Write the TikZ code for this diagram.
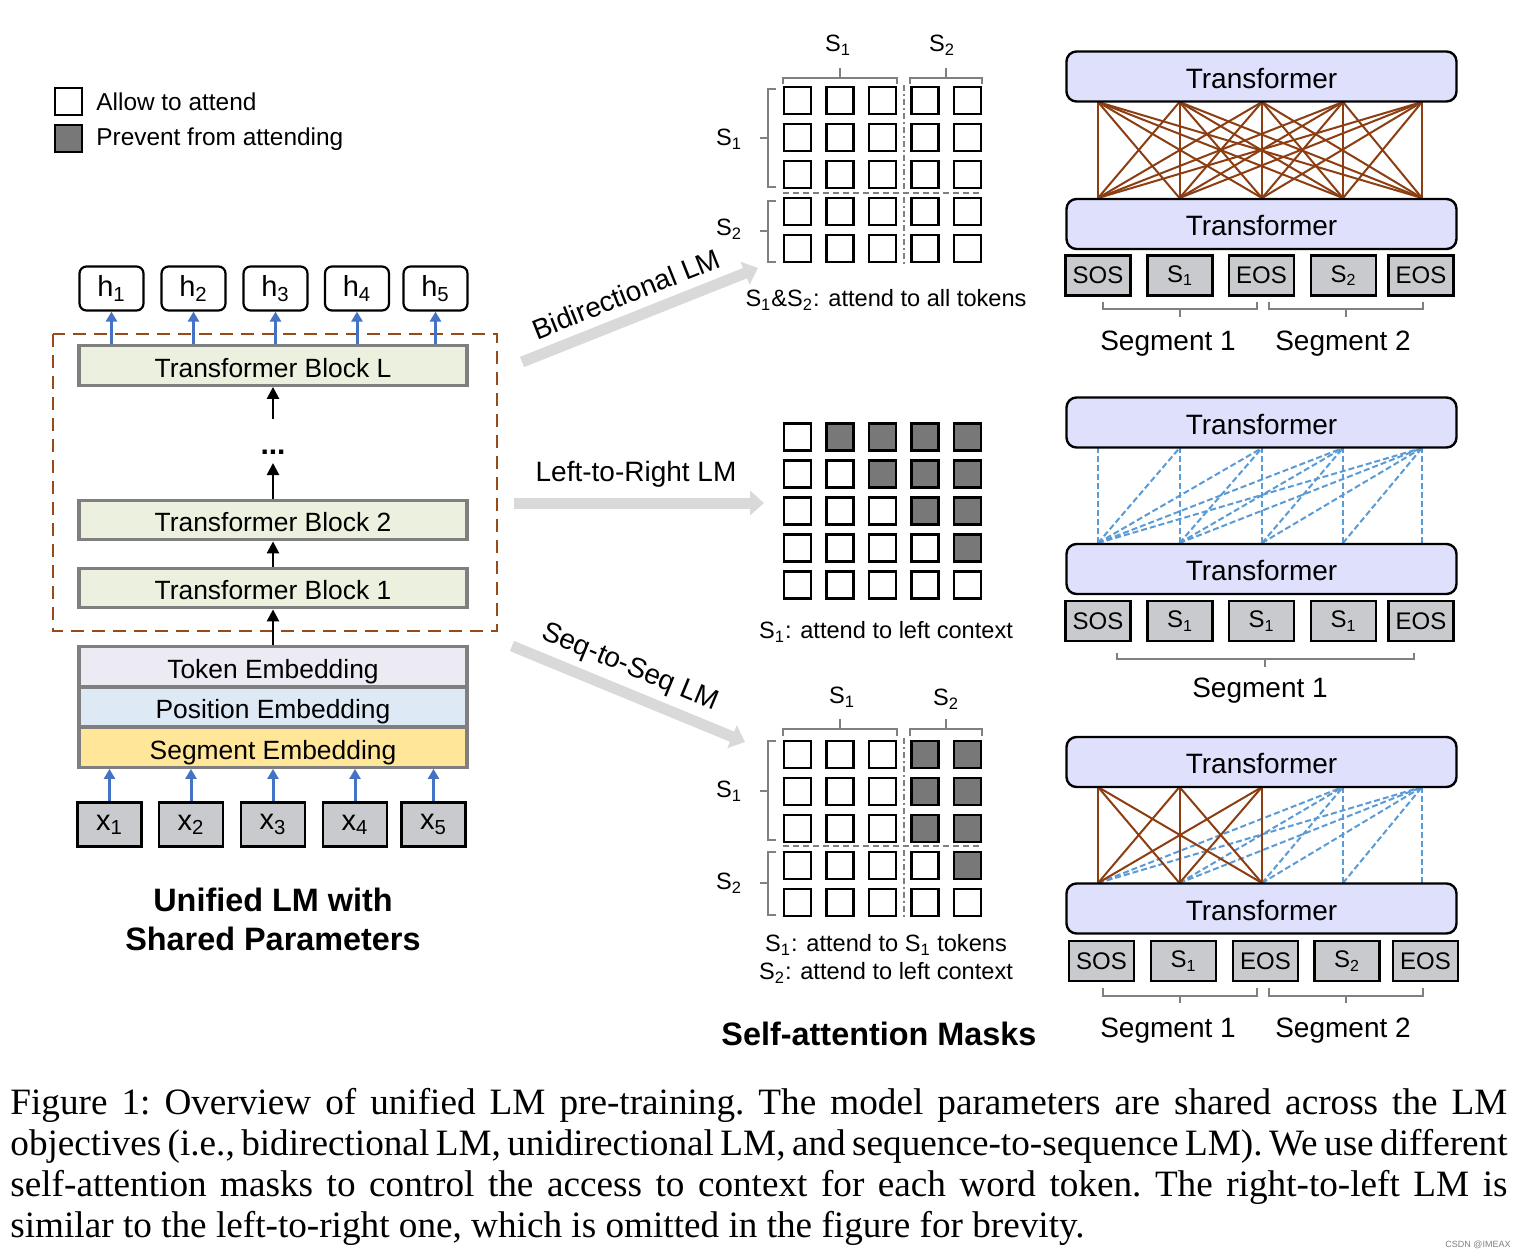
\documentclass[tikz,border=0pt]{standalone}
\usepackage{fontspec}
\setmainfont{Liberation Sans}
\newfontfamily\capfont{Liberation Serif}
\usetikzlibrary{arrows.meta}
\definecolor{brownline}{RGB}{140,62,18}
\definecolor{dashbrown}{RGB}{150,75,25}
\definecolor{blueline}{RGB}{91,155,213}
\definecolor{arrowblue}{RGB}{68,114,196}
\definecolor{bigarrow}{RGB}{217,217,217}
\definecolor{blockgreen}{RGB}{235,241,222}
\definecolor{tokfill}{RGB}{236,234,242}
\definecolor{posfill}{RGB}{221,233,245}
\definecolor{segfill}{RGB}{255,230,153}
\definecolor{inpfill}{RGB}{200,202,205}
\definecolor{trfill}{RGB}{222,224,252}
\definecolor{maskfill}{RGB}{120,120,120}
\definecolor{bracketgray}{RGB}{128,128,128}
\definecolor{blockborder}{RGB}{127,127,127}
\newcommand\mysub[1]{\textsubscript{#1}}
\begin{document}
\begin{tikzpicture}[x=0.5pt,y=-0.5pt,
  legbox/.style={draw=black,line width=1.1pt,minimum size=13.5pt,inner sep=0pt},
  cellw/.style={draw=black,line width=1.1pt,minimum size=13.5pt,inner sep=0pt,fill=white},
  hbox/.style={draw=black,line width=1.1pt,rounded corners=3.5pt,minimum width=32pt,minimum height=22pt,inner sep=0pt,font=\fontsize{14.5pt}{17pt}\selectfont},
  xbox/.style={draw=black,fill=inpfill,line width=1.2pt,minimum width=32pt,minimum height=22pt,inner sep=0pt,font=\fontsize{14.5pt}{17pt}\selectfont},
  block/.style={draw=blockborder,line width=1.6pt,minimum width=194pt,minimum height=19.8pt,inner sep=0pt,text height=11.6pt,text depth=0pt,font=\fontsize{13.2pt}{15pt}\selectfont},
  trans/.style={draw=black,fill=trfill,line width=1.2pt,rounded corners=5pt,minimum width=195pt,minimum height=25pt,inner sep=0pt,text height=11.6pt,text depth=0pt,font=\fontsize{14pt}{16pt}\selectfont},
  tok/.style={draw=black,fill=inpfill,line width=1.2pt,minimum width=32.5pt,minimum height=20pt,inner sep=0pt,font=\fontsize{12pt}{14pt}\selectfont},
  brk/.style={draw=bracketgray,line width=1.2pt},
  lbl/.style={font=\fontsize{12.2pt}{14pt}\selectfont,inner sep=0pt},
  mlbl/.style={font=\fontsize{11.8pt}{14pt}\selectfont,inner sep=0pt},
  seglbl/.style={font=\fontsize{14pt}{16pt}\selectfont,inner sep=0pt,text height=10pt,text depth=0pt},
  arrlbl/.style={font=\fontsize{14pt}{16pt}\selectfont,inner sep=0pt},
  titlbl/.style={font=\fontsize{16.2pt}{19.5pt}\selectfont\bfseries,inner sep=0pt,align=center},
  full/.style={draw=brownline,line width=1pt},
  causal/.style={draw=blueline,line width=1pt,dash pattern=on 3pt off 1.5pt},
  bigarr/.style={draw=bigarrow,line width=5.5pt,-{Triangle[length=7pt,width=12pt]}},
  uparr/.style={draw=arrowblue,line width=1.5pt,-{Triangle[length=5pt,width=5.5pt]}},
  blkarr/.style={draw=black,line width=1.3pt,-{Triangle[length=6pt,width=6pt]}}
]
\fill[white] (0,0) rectangle (1526,1258);
\useasboundingbox (0,0) rectangle (1526,1258);

% ---------- legend ----------
\node[legbox,fill=white] (legA) at (68.5,101.5) {};
\node[legbox,fill=maskfill] (legB) at (68.5,138.5) {};
\node[lbl,anchor=west] (legAt) at (96,101.5) {Allow to attend};
\node[lbl,anchor=west] (legBt) at (96,139) {Prevent from attending};

% ---------- left model ----------
\draw[dashbrown,line width=1.25pt,dash pattern=on 6.5pt off 4pt] (53,334) rectangle (497,631);
\node[block,fill=blockgreen] (bL) at (273,365.5) {Transformer Block L};
\node[block,fill=blockgreen] (b2) at (273,520) {Transformer Block 2};
\node[block,fill=blockgreen] (b1) at (273,588) {Transformer Block 1};
\node[block,fill=tokfill] (emT) at (273,666.5) {Token Embedding};
\node[block,fill=posfill] (emP) at (273,707) {Position Embedding};
\node[block,fill=segfill] (emS) at (273,747.5) {Segment Embedding};

\foreach \i/\xx in {1/111.5,2/193.5,3/275.5,4/357,5/435.5}
  \node[hbox] (h\i) at (\xx,288.5) {h\mysub{\i}};
\foreach \i/\xx in {1/109.5,2/191,3/273,4/355,5/433.5}
  \node[xbox] (x\i) at (\xx,824.5) {x\mysub{\i}};
\foreach \i in {1,...,5} {
  \draw[uparr] (h\i.south |- bL.north) -- (h\i.south);
  \draw[uparr] (x\i.north) -- (x\i.north |- emS.south);
}
\coordinate (dA) at (273,463);
\coordinate (dB) at (273,419);
\node[font=\fontsize{15pt}{16pt}\selectfont\bfseries,inner sep=0pt] (dots) at (273,452) {...};
\draw[blkarr] (b1.north) -- (b2.south);
\draw[blkarr] (b2.north) -- (dA);
\draw[blkarr] (dB) -- (bL.south);
\draw[blkarr] (emT.north) -- (b1.south);
\node[titlbl] (title) at (273,919) {Unified LM with\\Shared Parameters};

% ---------- big grey arrows ----------
\coordinate (biS) at (522,362); \coordinate (biE) at (758,268);
\coordinate (lrS) at (514,503); \coordinate (lrE) at (764,503);
\coordinate (ssS) at (512,646); \coordinate (ssE) at (745,742);
\draw[bigarr] (biS) -- (biE);
\draw[bigarr] (lrS) -- (lrE);
\draw[bigarr] (ssS) -- (ssE);
\node[arrlbl,rotate=21.7] (biL) at (626,294) {Bidirectional LM};
\node[arrlbl] (lrL) at (636,474) {Left-to-Right LM};
\node[arrlbl,rotate=-22.4] (ssL) at (630,668) {Seq-to-Seq LM};

% ---------- masks ----------
% top (bidirectional)
\foreach \r in {1,...,5}{\foreach \c in {1,...,5}{
  \node[cellw] (ma-\r-\c) at ({797.5+42.5*(\c-1)},{100.5+37*(\r-1)}) {};
}}
\draw[bracketgray,line width=1pt,dash pattern=on 3pt off 1.5pt on 1pt off 1.5pt] (903.5,85) -- (903.5,265);
\draw[bracketgray,line width=1pt,dash pattern=on 3pt off 2pt] (783,192.5) -- (982,192.5);
\draw[brk] (783,84) -- (783,78) -- (897,78) -- (897,84) (840,78) -- (840,68);
\draw[brk] (910,84) -- (910,78) -- (982,78) -- (982,84) (946,78) -- (946,68);
\draw[brk] (776,89) -- (768,89) -- (768,187) -- (776,187) (768,138) -- (760,138);
\draw[brk] (776,201) -- (768,201) -- (768,262) -- (776,262) (768,231) -- (760,231);
\node[mlbl] (maS1t) at (838,45) {S\mysub{1}};
\node[mlbl] (maS2t) at (942,45) {S\mysub{2}};
\node[mlbl] (maS1l) at (729,139) {S\mysub{1}};
\node[mlbl] (maS2l) at (729,229) {S\mysub{2}};
\node[mlbl] (maCap) at (886,300) {S\mysub{1}\&S\mysub{2}: attend to all tokens};

% middle (left-to-right)
\foreach \r in {1,...,5}{\foreach \c in {1,...,5}{
  \ifnum\c>\r \def\fillc{maskfill}\else\def\fillc{white}\fi
  \node[cellw,fill=\fillc] (mb-\r-\c) at ({797.5+42.5*(\c-1)},{437+37*(\r-1)}) {};
}}
\node[mlbl] (mbCap) at (886,632) {S\mysub{1}: attend to left context};

% bottom (seq-to-seq)
\foreach \r in {1,...,5}{\foreach \c in {1,...,5}{
  \def\fillc{white}
  \ifnum\c>3 \ifnum\c>\r \def\fillc{maskfill}\fi\fi
  \node[cellw,fill=\fillc] (mc-\r-\c) at ({797.5+42.5*(\c-1)},{754.5+37*(\r-1)}) {};
}}
\draw[bracketgray,line width=1pt,dash pattern=on 3pt off 1.5pt on 1pt off 1.5pt] (903.5,738) -- (903.5,918);
\draw[bracketgray,line width=1pt,dash pattern=on 3pt off 2pt] (783,846) -- (982,846);
\draw[brk] (783,736) -- (783,729) -- (897,729) -- (897,736) (840,729) -- (840,719);
\draw[brk] (910,736) -- (910,729) -- (982,729) -- (982,736) (946,729) -- (946,719);
\draw[brk] (776,741) -- (768,741) -- (768,840) -- (776,840) (768,791) -- (760,791);
\draw[brk] (776,852) -- (768,852) -- (768,915) -- (776,915) (768,883) -- (760,883);
\node[mlbl] (mcS1t) at (842,697) {S\mysub{1}};
\node[mlbl] (mcS2t) at (946,699) {S\mysub{2}};
\node[mlbl] (mcS1l) at (729,791) {S\mysub{1}};
\node[mlbl] (mcS2l) at (729,883) {S\mysub{2}};
\node[mlbl] (mcCapA) at (886,945) {S\mysub{1}: attend to S\mysub{1} tokens};
\node[mlbl] (mcCapB) at (886,973) {S\mysub{2}: attend to left context};
\node[titlbl] (maskTitle) at (879,1034) {Self-attention Masks};

% ---------- right transformers ----------
\foreach \i/\xx in {1/1098,2/1179.5,3/1262,4/1343,5/1422}{
  \coordinate (au\i) at (\xx,102);  \coordinate (al\i) at (\xx,198);
  \coordinate (bu\i) at (\xx,448);  \coordinate (bl\i) at (\xx,543);
  \coordinate (cu\i) at (\xx,787);  \coordinate (cl\i) at (\xx,883);
}
\foreach \i in {1,...,5}{\foreach \j in {1,...,5}{\draw[full] (al\i) -- (au\j);}}
\foreach \i in {1,...,5}{\foreach \j in {\i,...,5}{\draw[causal] (bl\i) -- (bu\j);}}
\foreach \i/\j in {1/4,1/5,2/4,2/5,3/4,3/5,4/4,4/5,5/5}{\draw[causal] (cl\i) -- (cu\j);}
\foreach \i in {1,2,3}{\foreach \j in {1,2,3}{\draw[full] (cl\i) -- (cu\j);}}

\node[trans] (tAu) at (1261.5,76.5) {Transformer};
\node[trans] (tAl) at (1261.5,224) {Transformer};
\node[trans] (tBu) at (1261.5,422.5) {Transformer};
\node[trans] (tBl) at (1261.5,569) {Transformer};
\node[trans] (tCu) at (1261.5,762) {Transformer};
\node[trans] (tCl) at (1261.5,908.5) {Transformer};

\node[tok] (kA1) at (1098,275.5) {SOS};
\node[tok] (kA2) at (1180,275.5) {S\mysub{1}};
\node[tok] (kA3) at (1261.5,275.5) {EOS};
\node[tok] (kA4) at (1343.5,275.5) {S\mysub{2}};
\node[tok] (kA5) at (1421,275.5) {EOS};
\node[tok] (kB1) at (1098,621) {SOS};
\node[tok] (kB2) at (1180,621) {S\mysub{1}};
\node[tok] (kB3) at (1261.5,621) {S\mysub{1}};
\node[tok] (kB4) at (1343.5,621) {S\mysub{1}};
\node[tok] (kB5) at (1421,621) {EOS};
\node[tok] (kC1) at (1101.5,961) {SOS};
\node[tok] (kC2) at (1183.5,961) {S\mysub{1}};
\node[tok] (kC3) at (1265.5,961) {EOS};
\node[tok] (kC4) at (1347,961) {S\mysub{2}};
\node[tok] (kC5) at (1425.5,961) {EOS};

\draw[brk] (1103,302) -- (1103,309) -- (1257,309) -- (1257,302) (1180,309) -- (1180,317);
\draw[brk] (1269,302) -- (1269,309) -- (1423,309) -- (1423,302) (1346,309) -- (1346,317);
\draw[brk] (1117,653) -- (1117,659) -- (1414,659) -- (1414,653) (1265,659) -- (1265,667);
\draw[brk] (1103,988) -- (1103,996) -- (1257,996) -- (1257,988) (1180,996) -- (1180,1003);
\draw[brk] (1269,988) -- (1269,996) -- (1423,996) -- (1423,988) (1346,996) -- (1346,1003);
\node[seglbl] (sgA1) at (1168,340) {Segment 1};
\node[seglbl] (sgA2) at (1343,340) {Segment 2};
\node[seglbl] (sgB1) at (1260,687) {Segment 1};
\node[seglbl] (sgC1) at (1168,1027) {Segment 1};
\node[seglbl] (sgC2) at (1343,1027) {Segment 2};

% ---------- caption ----------
\node[anchor=north west,inner sep=0pt,align=left,font=\capfont\frenchspacing\fontsize{18.6pt}{20.5pt}\selectfont] (caption) at (10,1088)
{\makebox[748.5pt][s]{Figure 1: Overview of unified LM pre-training. The model parameters are shared across the LM}\\
\makebox[748.5pt][s]{objectives (i.e., bidirectional LM, unidirectional LM, and sequence-to-sequence LM). We use different}\\
\makebox[748.5pt][s]{self-attention masks to control the access to context for each word token. The right-to-left LM is}\\
similar to the left-to-right one, which is omitted in the figure for brevity.};
\node[font=\fontsize{4.5pt}{5pt}\selectfont,text=gray,inner sep=0pt] (wm) at (1478,1245) {CSDN @IMEAX};
\end{tikzpicture}
\end{document}
